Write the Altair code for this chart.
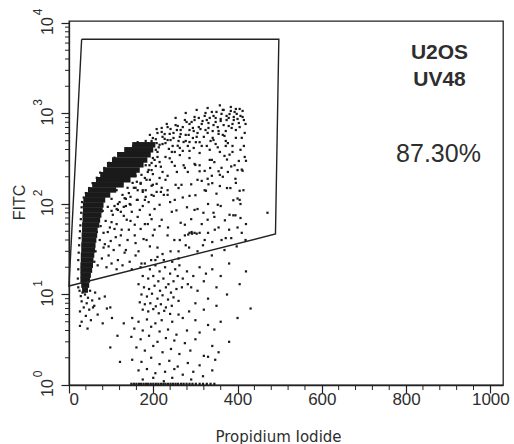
import altair as alt
import pandas as pd

# ---- plot geometry -------------------------------------------------------
W, H = 434, 364
X_MAX = 1030
Y_MAX = 10520

# ---- gate drawn around the gated population (PI, FITC) -------------------
gate_x = [30, 498, 490, 0, 30]
gate_y = [6610, 6610, 46.6, 12.4, 6610]

# ---- dense core of the population: one run per FITC level ----------------
core_y = [11.2, 12.7, 14.5, 16.4, 18.6, 21.1, 24.0, 27.3, 31.0, 35.2,
          40.0, 45.4, 51.6, 58.6, 66.6, 75.6, 85.9, 97.6, 111, 126,
          143, 163, 185, 210, 238, 271, 307, 349, 397, 451]
core_x0 = [31, 29, 27, 27, 27, 27, 28, 28, 29, 29,
           30, 30, 31, 31, 32, 32, 33, 33, 34, 38,
           45, 55, 64, 74, 81, 90, 102, 114, 131, 150]
core_x1 = [45, 48, 50, 52, 55, 57, 58, 60, 62, 63,
           65, 67, 68, 72, 74, 77, 80, 82, 86, 98,
           112, 130, 146, 160, 168, 177, 186, 194, 200, 205]

# ---- individual events (PI, FITC) ----------------------------------------
edge_left = [(22, 12), (21, 15), (22, 19), (22, 24), (23, 29), (24, 35), (25, 42),
             (26, 50), (27, 58), (28, 68), (29, 80), (30, 92), (31, 105), (35, 118),
             (40, 132), (48, 150), (56, 170), (66, 195), (74, 222), (84, 250),
             (95, 285), (108, 325), (122, 365), (138, 410), (152, 440)]

near_core = [(66, 49), (75, 57), (82, 48), (70, 69), (87, 65), (97, 55), (80, 84), (92, 93),
             (104, 76), (113, 60), (101, 114), (116, 100), (123, 82), (113, 142), (127, 126),
             (135, 95), (139, 151), (146, 120), (151, 171), (158, 205), (163, 142), (125, 52),
             (137, 67), (111, 43), (99, 39), (149, 82),
             (82, 33), (94, 27), (106, 31), (116, 24), (132, 29), (144, 23), (158, 27),
             (172, 22), (120, 35), (139, 40), (156, 45), (170, 53), (187, 60), (199, 45),
             (215, 57), (73, 40), (63, 30), (60, 23), (68, 21), (78, 25), (89, 20), (101, 22),
             (113, 19), (127, 21), (149, 19),
             (154, 151), (170, 167), (182, 142), (196, 159), (208, 136), (220, 151),
             (234, 126), (132, 116), (144, 100), (161, 111), (175, 95), (189, 105),
             (203, 88), (116, 86), (130, 74), (146, 65), (163, 72), (180, 60), (196, 68),
             (101, 63), (92, 49), (108, 53), (123, 45), (142, 52), (158, 37), (177, 41),
             (192, 34), (85, 36), (94, 34), (135, 31), (165, 30),
             (210, 331), (196, 284), (206, 263), (189, 238), (199, 214), (180, 194),
             (192, 185), (170, 171), (158, 151), (175, 136), (142, 132), (135, 114),
             (120, 105), (108, 95), (101, 84), (113, 88), (130, 93), (146, 98), (163, 111),
             (182, 120), (208, 167), (222, 226), (229, 185), (218, 136), (201, 123)]

upper_band = [(172, 210), (182, 268), (196, 237), (203, 307), (210, 376), (218, 258),
              (208, 471), (222, 460), (229, 331), (237, 406), (244, 291), (227, 524),
              (241, 509), (251, 376), (258, 440), (248, 610), (263, 552), (270, 386),
              (277, 497), (184, 185), (199, 163), (215, 194), (234, 205), (256, 226),
              (272, 268), (286, 322), (296, 416), (161, 176), (175, 142), (284, 580),
              (294, 692), (191, 268), (187, 226), (199, 322), (206, 397), (215, 451),
              (196, 497), (182, 497), (163, 482), (154, 440)]

arc_top = [(220, 625), (234, 708), (253, 745), (265, 657), (275, 847), (286, 766),
           (298, 916), (308, 708), (317, 826), (324, 1013), (334, 893), (343, 745),
           (350, 1040), (360, 870), (367, 1095), (374, 940), (384, 1067), (391, 847),
           (398, 990), (405, 1122), (412, 916), (419, 766), (379, 727), (355, 641),
           (329, 610), (303, 552), (341, 538), (365, 580), (396, 657), (410, 538),
           (310, 482), (327, 438), (348, 460), (372, 497), (388, 438), (407, 397),
           (417, 331), (403, 299), (381, 351), (358, 376),
           (206, 520), (213, 423), (222, 552), (229, 471), (239, 595), (246, 438),
           (256, 657), (260, 497), (270, 708), (277, 580), (282, 438), (291, 806),
           (296, 640), (301, 482), (308, 893), (312, 673), (320, 552), (327, 847),
           (331, 692), (336, 497), (343, 940), (348, 806), (355, 595), (362, 990),
           (367, 745), (372, 640), (379, 893), (384, 1180), (388, 766), (393, 1040),
           (400, 870), (405, 708), (412, 1067), (417, 610), (396, 538), (377, 471),
           (353, 423), (334, 397), (310, 366), (286, 386), (263, 347), (239, 320),
           (215, 291), (369, 340), (388, 376), (415, 438), (339, 307), (298, 277),
           (275, 251), (251, 264), (322, 232), (358, 210), (400, 237), (253, 893),
           (277, 1013), (303, 1095), (329, 1150), (358, 1230), (232, 766), (208, 673),
           (192, 580),
           (199, 536), (210, 609), (220, 692), (227, 593), (234, 509), (241, 674),
           (248, 536), (258, 728), (265, 593), (272, 484), (279, 806), (286, 657),
           (294, 536), (298, 847), (305, 609), (315, 766), (322, 940), (324, 657),
           (331, 785), (339, 1040), (341, 640), (348, 893), (353, 708), (360, 826),
           (365, 1095), (369, 565), (374, 847), (381, 987), (386, 692), (391, 916),
           (396, 1122), (403, 785), (407, 940), (415, 847), (286, 484), (263, 416),
           (244, 376), (315, 438), (343, 509), (372, 438)]

middle = [(180, 111), (196, 126), (215, 98), (234, 142), (251, 111), (267, 163),
          (286, 123), (305, 185), (322, 142), (339, 205), (358, 158), (377, 226),
          (396, 171), (412, 233), (192, 76), (220, 67), (244, 82), (275, 59), (298, 86),
          (329, 67), (353, 98), (381, 76), (405, 111), (203, 52), (234, 45), (263, 40),
          (291, 49), (322, 40), (346, 52), (372, 42), (400, 55), (419, 40), (310, 268),
          (334, 307), (362, 251), (393, 268), (282, 226), (253, 163), (225, 126),
          (168, 86), (156, 59), (184, 40), (210, 33), (241, 30), (277, 35), (305, 30),
          (339, 27), (369, 31), (398, 34),
          (205, 24), (222, 28), (260, 30), (285, 33), (318, 35), (340, 38), (362, 40),
          (385, 42), (250, 40), (275, 45), (330, 48), (355, 55), (380, 52), (410, 48),
          (235, 55), (265, 62), (290, 68), (315, 60), (345, 72), (370, 66), (395, 75),
          (420, 60), (255, 85), (280, 92), (305, 88), (330, 100), (360, 95), (390, 110),
          (240, 105), (270, 118), (300, 125), (325, 140), (350, 130), (375, 150),
          (405, 140), (260, 150), (290, 165), (315, 180), (340, 170), (365, 200),
          (395, 190), (310, 230), (335, 250), (355, 230), (385, 260), (410, 240),
          (300, 270), (345, 290), (375, 310), (420, 300), (329, 190), (331, 165),
          (383, 150), (414, 142), (400, 115), (471, 80), (407, 100), (319, 80), (343, 80),
          (390, 75), (407, 70),
          (283, 46), (286, 48), (292, 47), (298, 48), (303, 47), (310, 48)]

cluster = [(170, 20), (180, 22), (192, 19), (205, 21), (215, 18), (228, 20), (240, 17),
           (252, 19), (262, 21), (175, 16), (188, 15), (200, 16), (212, 14), (224, 15),
           (236, 13), (248, 14), (258, 16), (270, 15), (165, 13), (178, 12), (190, 11.5),
           (203, 12.5), (216, 11), (230, 12), (242, 10.5), (255, 11.5), (268, 12), (282, 13),
           (172, 10), (185, 9.5), (197, 10.2), (210, 9), (222, 9.8), (235, 8.8), (248, 9.3),
           (260, 8.5), (168, 8.2), (180, 7.8), (193, 8), (206, 7.4), (218, 7.8), (230, 7.2),
           (244, 7.5), (175, 6.8), (188, 6.5), (200, 6.9), (213, 6.2), (226, 6.6), (240, 6.1),
           (195, 24), (210, 26), (225, 24), (245, 23), (260, 25), (280, 18), (295, 16),
           (310, 20), (325, 17), (290, 12), (305, 11), (320, 14), (340, 19), (360, 16),
           (380, 22), (300, 8), (330, 9), (350, 12), (375, 10), (405, 13), (420, 18)]

low = [(150, 5.5), (165, 5), (185, 5.3), (205, 4.8), (220, 5.2), (245, 5), (270, 5.5),
       (300, 5.2), (330, 4.6), (360, 5), (400, 5.5), (155, 4.2), (175, 4), (195, 4.4),
       (215, 3.9), (235, 4.1), (255, 3.6), (280, 4), (310, 3.8), (345, 4.1), (148, 3.4),
       (170, 3.2), (190, 3.5), (210, 3), (230, 3.3), (250, 3.1), (275, 2.9), (300, 3.2),
       (340, 2.7), (380, 3), (160, 2.6), (180, 2.4), (200, 2.7), (222, 2.3), (242, 2.5),
       (262, 2.2), (288, 2.4), (320, 2.1), (355, 2.3), (150, 1.9), (172, 1.8), (195, 2),
       (215, 1.7), (238, 1.85), (258, 1.6), (282, 1.75), (310, 1.65), (330, 2.05),
       (347, 1.9), (165, 1.45), (185, 1.5), (205, 1.35), (228, 1.4), (250, 1.5), (270, 1.3),
       (295, 1.4), (318, 1.25), (340, 1.45), (175, 1.15), (200, 1.2), (225, 1.1), (245, 1.2),
       (290, 1.15), (98, 2.6), (121, 1.8), (26, 4.5), (115, 3.5), (130, 4.8), (431, 7),
       (260, 6), (285, 6.5), (320, 6.8), (350, 7.5)]

left_low = [(25, 11), (32, 10.5), (28, 9.6), (38, 10), (45, 9.2), (30, 8.4), (42, 8),
            (55, 8.6), (35, 7.2), (26, 6.5), (48, 6.8), (60, 7.5), (40, 5.8), (68, 6),
            (30, 5), (52, 5.2), (80, 4.8), (44, 4.2), (72, 9), (62, 10.5), (50, 11),
            (90, 7), (102, 5.5), (85, 9.5), (98, 7.2), (57, 7.2)]

floor_x = [148, 154, 160, 166, 171, 177, 183, 188, 194, 200, 206, 212, 218, 224, 229,
           235, 241, 247, 253, 259, 266, 272, 279, 286, 293, 301, 310, 318, 327, 336, 345]
floor_y = [1.03] * len(floor_x)

# ---- axis ticks ----------------------------------------------------------
x_major = [0, 200, 400, 600, 800, 1000]
x_minor = [40, 80, 120, 160, 240, 280, 320, 360, 440, 480, 520, 560,
           640, 680, 720, 760, 840, 880, 920, 960]
y_major = [1, 10, 100, 1000, 10000]
y_exponent = ["0", "1", "2", "3", "4"]
y_minor = [2, 3, 4, 5, 6, 7, 8, 9,
           20, 30, 40, 50, 60, 70, 80, 90,
           200, 300, 400, 500, 600, 700, 800, 900,
           2000, 3000, 4000, 5000, 6000, 7000, 8000, 9000]

sample_name = "U2OS"
sample_treatment = "UV48"
gate_percent = "87.30%"

INK = "#1a1a1a"
TEXT = "#2e2e2e"
SANS = "Liberation Sans"

# ---- tables --------------------------------------------------------------
events = edge_left + near_core + upper_band + arc_top + middle + cluster + low + left_low
events_df = pd.DataFrame(
    {"pi": [p[0] for p in events] + floor_x,
     "fitc": [p[1] for p in events] + floor_y}
)
core_df = pd.DataFrame({"fitc": core_y, "pi": core_x0, "pi2": core_x1})
gate_df = pd.DataFrame({"pi": gate_x, "fitc": gate_y, "i": list(range(len(gate_x)))})
ymaj_df = pd.DataFrame({"fitc": y_major, "base": ["10"] * len(y_major), "exp": y_exponent})
ymin_df = pd.DataFrame({"fitc": y_minor})
xmin_df = pd.DataFrame({"pi": x_minor})

xs = alt.Scale(domain=[0, X_MAX], nice=False, zero=False)
ys = alt.Scale(type="log", domain=[1, Y_MAX], nice=False)
X = alt.X("pi:Q", scale=xs)
Y = alt.Y("fitc:Q", scale=ys)

points = alt.Chart(events_df).mark_square(size=5, color=INK, opacity=1).encode(
    x=alt.X("pi:Q", scale=xs,
            axis=alt.Axis(values=x_major, format="d", tickSize=8, tickWidth=1.2,
                          labelPadding=6, labelBaseline="middle",
                          labelFont="Liberation Sans Narrow, Liberation Sans",
                          labelFontSize=17, labelColor=TEXT,
                          title="Propidium Iodide",
                          titleFont="DejaVu Sans", titleFontSize=15,
                          titleFontWeight="normal", titleColor=TEXT,
                          titleX=209, titleY=56, titleAlign="center",
                          titleBaseline="alphabetic")),
    y=alt.Y("fitc:Q", scale=ys,
            axis=alt.Axis(values=y_major, tickSize=8, tickWidth=1.2, labels=False,
                          title="FITC", titleFont=SANS, titleFontSize=16,
                          titleFontWeight="normal", titleColor=TEXT, titleAngle=270,
                          titleX=-50, titleY=181, titleAlign="center",
                          titleBaseline="middle")),
)

core = alt.Chart(core_df).mark_rule(strokeWidth=5.5, color=INK).encode(
    x=X, x2="pi2:Q", y=Y,
)

gate = alt.Chart(gate_df).mark_line(color="#222", strokeWidth=1.4).encode(
    x=X, y=Y, order="i:Q",
)

y_minor_ticks = alt.Chart(ymin_df).mark_rule(color="#222", strokeWidth=1).encode(
    y=Y, x=alt.value(-4), x2=alt.value(0),
)

x_minor_ticks = alt.Chart(xmin_df).mark_rule(color="#222", strokeWidth=1).encode(
    x=X, y=alt.value(H), y2=alt.value(H + 5),
)

y_base = alt.Chart(ymaj_df).mark_text(
    angle=270, align="center", baseline="middle", font=SANS,
    fontSize=16, color=TEXT, yOffset=3,
).encode(y=Y, x=alt.value(-21.5), text="base:N")

y_exp = alt.Chart(ymaj_df).mark_text(
    angle=270, align="center", baseline="middle", font=SANS,
    fontSize=12, color=TEXT, yOffset=-11,
).encode(y=Y, x=alt.value(-31), text="exp:N")

label_df = pd.DataFrame({"name": [sample_name], "treat": [sample_treatment],
                         "pct": [gate_percent]})
bold_text = dict(font=SANS, fontSize=21, fontWeight="bold", color=TEXT,
                 align="center", baseline="middle")
name_text = alt.Chart(label_df).mark_text(**bold_text).encode(
    text="name:N", x=alt.value(370.5), y=alt.value(31.5))
treat_text = alt.Chart(label_df).mark_text(**bold_text).encode(
    text="treat:N", x=alt.value(370.5), y=alt.value(59))
pct_text = alt.Chart(label_df).mark_text(
    font=SANS, fontSize=25, color=TEXT, align="center", baseline="middle",
).encode(text="pct:N", x=alt.value(369.5), y=alt.value(133))

chart = alt.layer(
    points, core, gate, y_minor_ticks, x_minor_ticks, y_base, y_exp,
    name_text, treat_text, pct_text,
).properties(
    width=W, height=H,
    autosize=alt.AutoSizeParams(type="none"),
    padding={"left": 69, "top": 21, "right": 11, "bottom": 59},
    background="white",
).configure_view(
    stroke="#222", strokeWidth=1.3
).configure_axis(
    grid=False, domainColor="#222", domainWidth=1.3, tickColor="#222"
)

chart.save("out.html", embed_options={"renderer": "svg", "actions": False})
